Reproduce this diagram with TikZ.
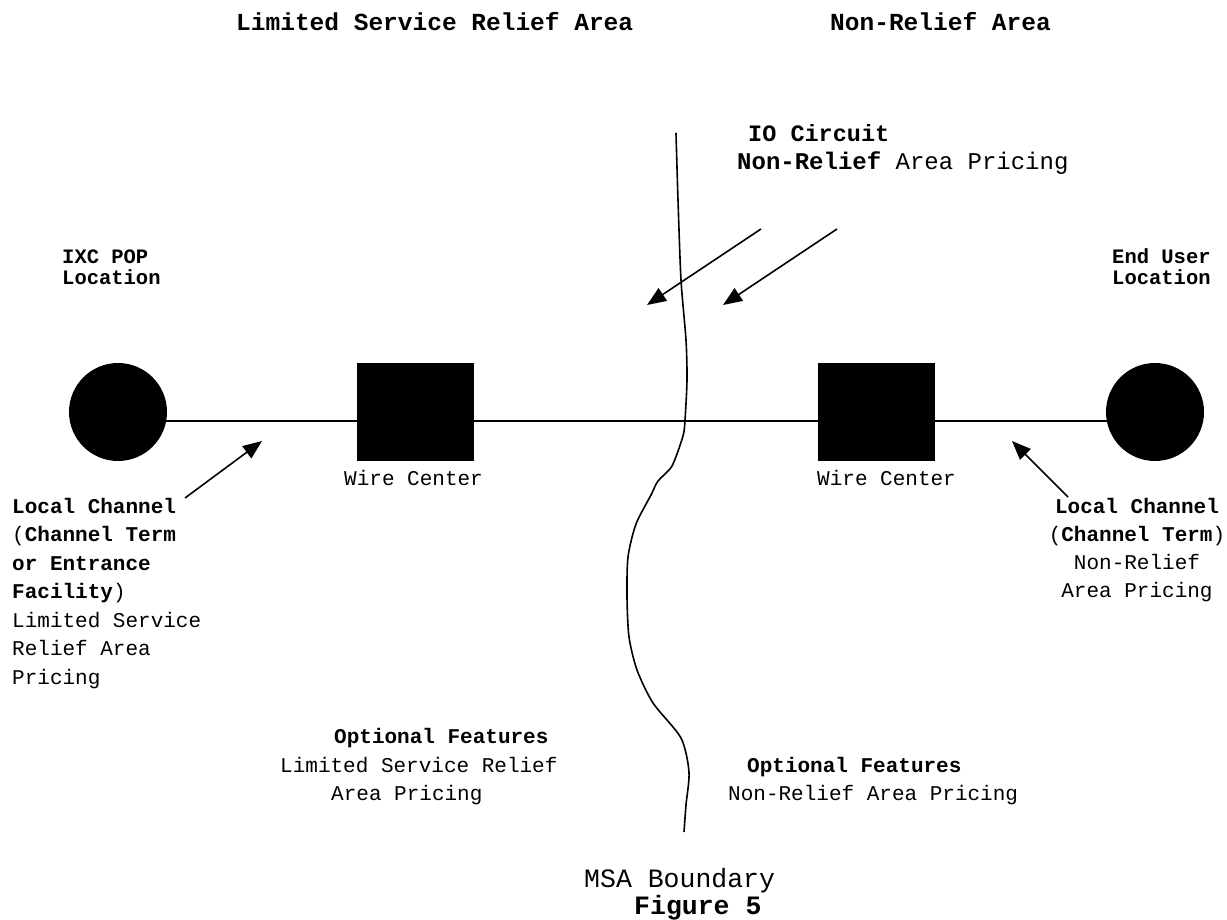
\documentclass[tikz,border=0pt]{standalone}
\usepackage{fontspec}
\setmainfont{Liberation Mono}
\usetikzlibrary{arrows.meta}
\newcommand\fsz[1]{\fontsize{#1}{#1}\selectfont}
\begin{document}
\begin{tikzpicture}[x=1pt,y=-1pt,
  txt/.style={anchor=base west,inner sep=0pt,font=\fsz{21}},
  ctxt/.style={anchor=base,inner sep=0pt,font=\fsz{21}},
  loc/.style={anchor=base west,inner sep=0pt,align=left,font=\fontsize{20.5}{21}\selectfont\bfseries},
  dot/.style={circle,fill=black,minimum size=98pt,inner sep=0pt},
  blk/.style={rectangle,fill=black,minimum width=117pt,minimum height=98pt,inner sep=0pt},
  ln/.style={line width=1.6pt},
  arr/.style={line width=1.6pt,-{Triangle[length=19pt,width=15pt]}}]
\useasboundingbox (0,0) rectangle (1227,920);
% headers
\node[txt,font=\fsz{24.5}\bfseries] (hL) at (236,31) {Limited Service Relief Area};
\node[txt,font=\fsz{24.5}\bfseries] (hR) at (830,31) {Non-Relief Area};
% IO circuit
\node[txt,font=\fsz{23.5}\bfseries] (io1) at (748,142) {IO Circuit};
\node[txt,font=\fsz{24}] (io2) at (737,170) {\textbf{Non-Relief} Area Pricing};
% location labels
\node[loc] (ixcl) at (62,285) {IXC POP\\Location};
\node[loc] (eul) at (1112,285) {End User\\Location};
% shapes
\node[dot] (ixc) at (118,412) {};
\node[dot] (eu) at (1155,412) {};
\node[blk] (wc1) at (415.5,412) {};
\node[blk] (wc2) at (876.5,412) {};
\draw[ln] ([yshift=-9pt]ixc.center) -- ([yshift=-9pt]wc1.center) -- ([yshift=-9pt]wc2.center) -- ([yshift=-9pt]eu.center);
\node[txt] (wcl1) at (344,485) {Wire Center};
\node[txt] (wcl2) at (817,485) {Wire Center};
% MSA boundary
\draw[ln] plot[smooth,tension=0.45] coordinates {(676,133) (678,200) (681,280) (686,340) (687,380) (685,420) (683,436) (672,466) (658,481) (651,495) (636,524) (628,557) (627,597) (629,637) (637,670) (653,703) (681,738) (689,772) (686,805) (684,832)};
% arrows
\coordinate (lt) at (185,498); \coordinate (lh) at (262,441);
\draw[arr] (lt) -- (lh);
\coordinate (rt) at (1068,497); \coordinate (rh) at (1012,441);
\draw[arr] (rt) -- (rh);
\coordinate (a1t) at (761,229); \coordinate (a1h) at (647,305);
\draw[arr] (a1t) -- (a1h);
\coordinate (a2t) at (837,229); \coordinate (a2h) at (723,305);
\draw[arr] (a2t) -- (a2h);
% left column
\node[txt,font=\fsz{21}\bfseries] (l1) at (12,513) {Local Channel};
\node[txt] (l2) at (12,541.5) {(\textbf{Channel Term}};
\node[txt,font=\fsz{21}\bfseries] (l3) at (12,570) {or Entrance};
\node[txt] (l4) at (12,598.5) {\textbf{Facility})};
\node[txt] (l5) at (12,627) {Limited Service};
\node[txt] (l6) at (12,655.5) {Relief Area};
\node[txt] (l7) at (12,684) {Pricing};
% right column
\node[ctxt,font=\fsz{21}\bfseries] (r1) at (1137,513) {Local Channel};
\node[ctxt] (r2) at (1137,541) {(\textbf{Channel Term})};
\node[ctxt] (r3) at (1137,569) {Non-Relief};
\node[ctxt] (r4) at (1137,597) {Area Pricing};
% bottom
\node[txt,font=\fsz{21}\bfseries] (ofl1) at (334,743) {Optional Features};
\node[txt] (ofl2) at (280,772) {Limited Service Relief};
\node[txt] (ofl3) at (331,800) {Area Pricing};
\node[txt,font=\fsz{21}\bfseries] (ofr1) at (747,772) {Optional Features};
\node[txt] (ofr2) at (728,800) {Non-Relief Area Pricing};
\node[txt,font=\fsz{26.5}] (msa) at (584,887) {MSA Boundary};
\node[txt,font=\fsz{26.5}\bfseries] (fig) at (634,914) {Figure 5};
\end{tikzpicture}
\end{document}
